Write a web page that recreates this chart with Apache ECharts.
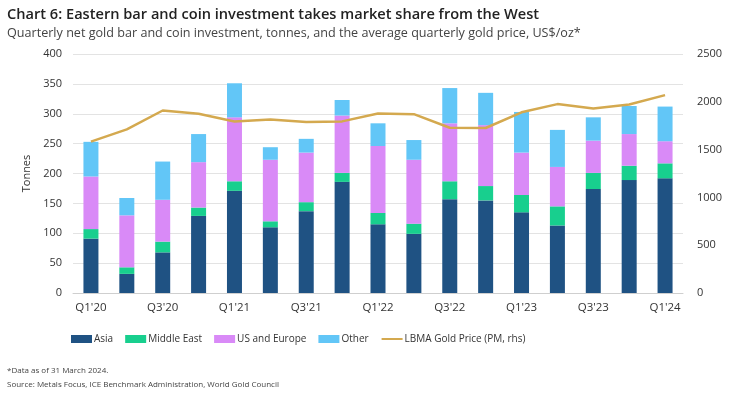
<!DOCTYPE html>
<html>
<head>
<meta charset="utf-8">
<script src="https://cdn.jsdelivr.net/npm/echarts@6/dist/echarts.min.js"></script>
<style>
  html, body { margin: 0; padding: 0; background: #fff; }
  #chart { width: 730px; height: 398px; }
</style>
</head>
<body>
<div id="chart"></div>
<script>
// quarters Q1'20 .. Q1'24
const quarters = ["Q1'20", "Q2'20", "Q3'20", "Q4'20", "Q1'21", "Q2'21", "Q3'21", "Q4'21",
  "Q1'22", "Q2'22", "Q3'22", "Q4'22", "Q1'23", "Q2'23", "Q3'23", "Q4'23", "Q1'24"]

// tonnes
const asia = [91, 32, 68, 129, 171, 110, 137, 186, 115, 99, 157, 155, 135, 113, 174, 189, 192]
const middleEast = [16, 11, 18, 14, 16, 10, 15, 15, 19, 17, 30, 24, 29, 32, 27, 24, 25]
const usEurope = [88, 87, 70, 76, 107, 103, 83, 96, 112, 107, 97, 102, 71, 66, 54, 53, 37]
const other = [58, 29, 64, 47, 57, 21, 23, 26, 38, 33, 59, 54, 68, 62, 39, 47, 58]

// US$/oz, rhs
const goldPrice = [1583, 1711, 1909, 1874, 1794, 1816, 1789, 1795, 1877, 1871, 1729, 1726,
  1890, 1976, 1929, 1971, 2070]

const font = 'Open Sans'
const chart = echarts.init(document.getElementById('chart'))

function barSeries(name, data, color) {
  return {
    name: name,
    type: 'bar',
    stack: 'total',
    barWidth: 15,
    itemStyle: { color: color },
    data: data
  }
}

chart.setOption({
  animation: false,
  textStyle: { fontFamily: font },
  title: [{
    text: 'Chart 6: Eastern bar and coin investment takes market share from the West',
    left: 2,
    top: 2,
    textStyle: { fontFamily: font, fontSize: 14.6, fontWeight: 600, color: '#222' }
  }, {
    text: 'Quarterly net gold bar and coin investment, tonnes, and the average quarterly gold price, US$/oz*',
    left: 2,
    top: 22,
    textStyle: { fontFamily: font, fontSize: 12.6, fontWeight: 'normal', color: '#444' }
  }, {
    text: '*Data as of 31 March 2024.\nSource: Metals Focus, ICE Benchmark Administration, World Gold Council',
    left: 2,
    top: 359,
    textStyle: { fontFamily: font, fontSize: 8, fontWeight: 'normal', color: '#444', lineHeight: 14 }
  }],
  grid: {
    left: 73,
    right: 47,
    top: 54,
    bottom: 105
  },
  legend: {
    top: 329,
    left: 66,
    itemGap: 12,
    itemWidth: 21,
    itemHeight: 8,
    textStyle: { fontFamily: font, fontSize: 10, color: '#333', padding: [0, 0, 0, -3] },
    data: [
      { name: 'Asia', icon: 'rect' },
      { name: 'Middle East', icon: 'rect' },
      { name: 'US and Europe', icon: 'rect' },
      { name: 'Other', icon: 'rect' },
      { name: 'LBMA Gold Price (PM, rhs)', itemStyle: { opacity: 0 } }
    ]
  },
  xAxis: {
    type: 'category',
    data: quarters,
    axisTick: { show: false },
    axisLine: { lineStyle: { color: '#cfcfcf' } },
    axisLabel: { interval: 1, color: '#333', fontSize: 11.5, margin: 9 }
  },
  yAxis: [{
    type: 'value',
    min: 0,
    max: 400,
    interval: 50,
    name: 'Tonnes',
    nameLocation: 'middle',
    nameGap: 38,
    nameTextStyle: { fontFamily: font, fontSize: 11, color: '#333' },
    axisLabel: { color: '#333', fontSize: 11, margin: 11 },
    splitLine: { lineStyle: { color: '#e3e3e3' } }
  }, {
    type: 'value',
    min: 0,
    max: 2500,
    interval: 500,
    position: 'right',
    axisLabel: { color: '#333', fontSize: 11, margin: 14, formatter: v => String(v) },
    splitLine: { show: false }
  }],
  series: [
    barSeries('Asia', asia, '#1f5283'),
    barSeries('Middle East', middleEast, '#18cf8e'),
    barSeries('US and Europe', usEurope, '#d98af7'),
    barSeries('Other', other, '#62c6f7'),
    {
      name: 'LBMA Gold Price (PM, rhs)',
      type: 'line',
      yAxisIndex: 1,
      symbol: 'none',
      lineStyle: { color: '#d4a94f', width: 2.5 },
      itemStyle: { color: '#d4a94f' },
      data: goldPrice
    }
  ]
})
</script>
</body>
</html>
